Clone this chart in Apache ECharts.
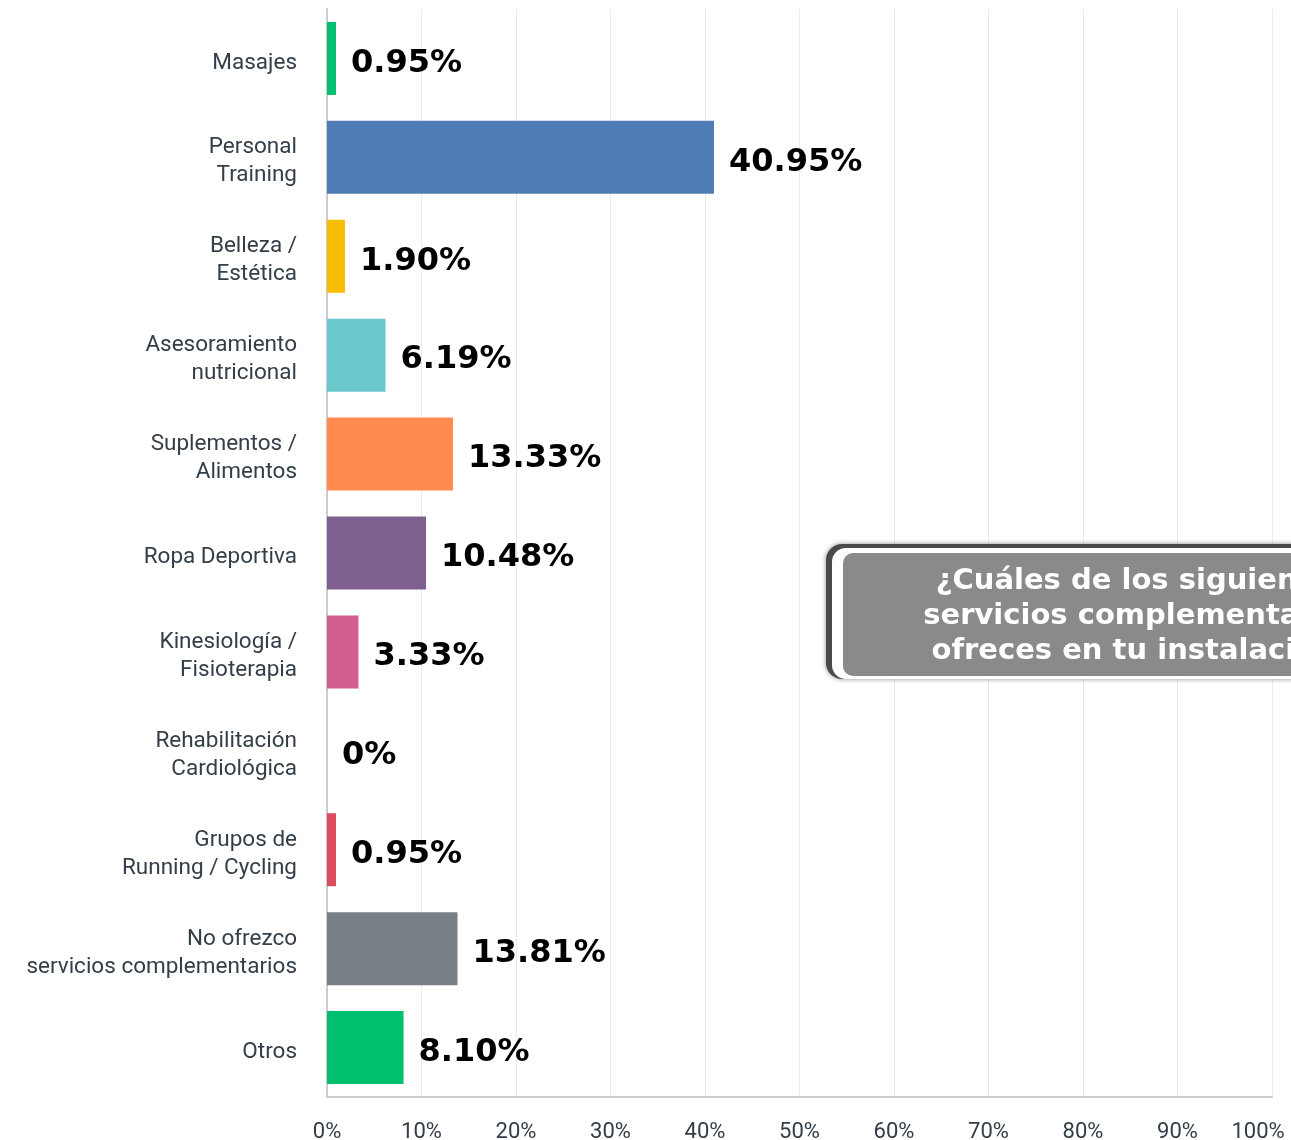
<!DOCTYPE html>
<html><head><meta charset="utf-8">
<script src="https://cdn.jsdelivr.net/npm/echarts@6/dist/echarts.min.js"></script>
<style>html,body{margin:0;padding:0;background:#fff}#c{width:1291px;height:1140px}</style>
</head><body><div id="c"></div>
<script>
const categories = ['Masajes','Personal\nTraining','Belleza /\nEstética','Asesoramiento\nnutricional','Suplementos /\nAlimentos','Ropa Deportiva','Kinesiología /\nFisioterapia','Rehabilitación\nCardiológica','Grupos de\nRunning / Cycling','No ofrezco\nservicios complementarios','Otros'];
const values = [0.95, 40.95, 1.90, 6.19, 13.33, 10.48, 3.33, 0, 0.95, 13.81, 8.10];
const valueLabels = ['0.95%','40.95%','1.90%','6.19%','13.33%','10.48%','3.33%','0%','0.95%','13.81%','8.10%'];
const colors = ['#00bf6f','#507cb6','#f9be00','#6bc8cd','#ff8b4f','#7f5f90','#d25f90','#468557','#db4d5c','#768086','#00bf6f'];
const xTicks = [0,10,20,30,40,50,60,70,80,90,100];
const titleLines = ['¿Cuáles de los siguientes','servicios complementarios','ofreces en tu instalación?'];

const chart = echarts.init(document.getElementById('c'));
chart.setOption({
  animation:false,
  grid:{left:327,right:19,top:9,bottom:43,containLabel:false,outerBoundsMode:'none'},
  xAxis:{type:'value',min:xTicks[0],max:xTicks[xTicks.length-1],interval:10,
    axisLine:{show:true,lineStyle:{color:'#cccccc',width:2}},
    axisTick:{show:false},
    splitLine:{show:true,lineStyle:{color:'#ebebeb',width:1}},
    axisLabel:{formatter:v=>v===xTicks[xTicks.length-1]?'{m|'+v+'%}':v+'%',color:'#333e48',fontFamily:'Roboto, sans-serif',fontSize:22,margin:24,
      rich:{m:{fontFamily:'Roboto, sans-serif',fontSize:22,color:'#333e48',padding:[0,28,0,0]}}}},
  yAxis:{type:'category',data:categories,inverse:true,
    axisLine:{show:true,lineStyle:{color:'#cccccc',width:2}},
    axisTick:{show:false},
    axisLabel:{color:'#333e48',fontFamily:'Roboto, sans-serif',fontSize:22.5,lineHeight:28,margin:30,align:'right',
      formatter:v=>'{s|}\n'+v.split('\n').map(s=>'{a|'+s+'}').join('\n'),
      rich:{s:{height:9,lineHeight:9,fontSize:1},a:{fontFamily:'Roboto, sans-serif',fontSize:22.5,lineHeight:28,color:'#333e48',align:'right'}}}},
  series:[{type:'bar',barWidth:73,
    data:values.map((v,i)=>({value:v,itemStyle:{color:colors[i]}})),
    label:{show:true,position:'right',distance:15,offset:[0,5],formatter:p=>valueLabels[p.dataIndex],
      color:'#000',fontFamily:'DejaVu Sans',fontWeight:'bold',fontSize:32}}],
  graphic:[{type:'group',left:826,top:544,z:100,children:[
    {type:'rect',z:100,shape:{x:0,y:0,width:620,height:135,r:16},style:{fill:'#4a4a4a',shadowBlur:5,shadowColor:'rgba(0,0,0,0.45)'}},
    {type:'rect',z:101,shape:{x:6,y:4,width:620,height:131,r:14},style:{fill:'#ffffff'}},
    {type:'rect',z:102,shape:{x:17,y:9,width:620,height:123,r:10},style:{fill:'#8a8a8a'}},
    {type:'text',z:103,x:316,y:20,style:{text:titleLines.join('\n'),fill:'#fff',font:'bold 29px "DejaVu Sans"',lineHeight:35,align:'center'}}
  ]}]
});
</script></body></html>
